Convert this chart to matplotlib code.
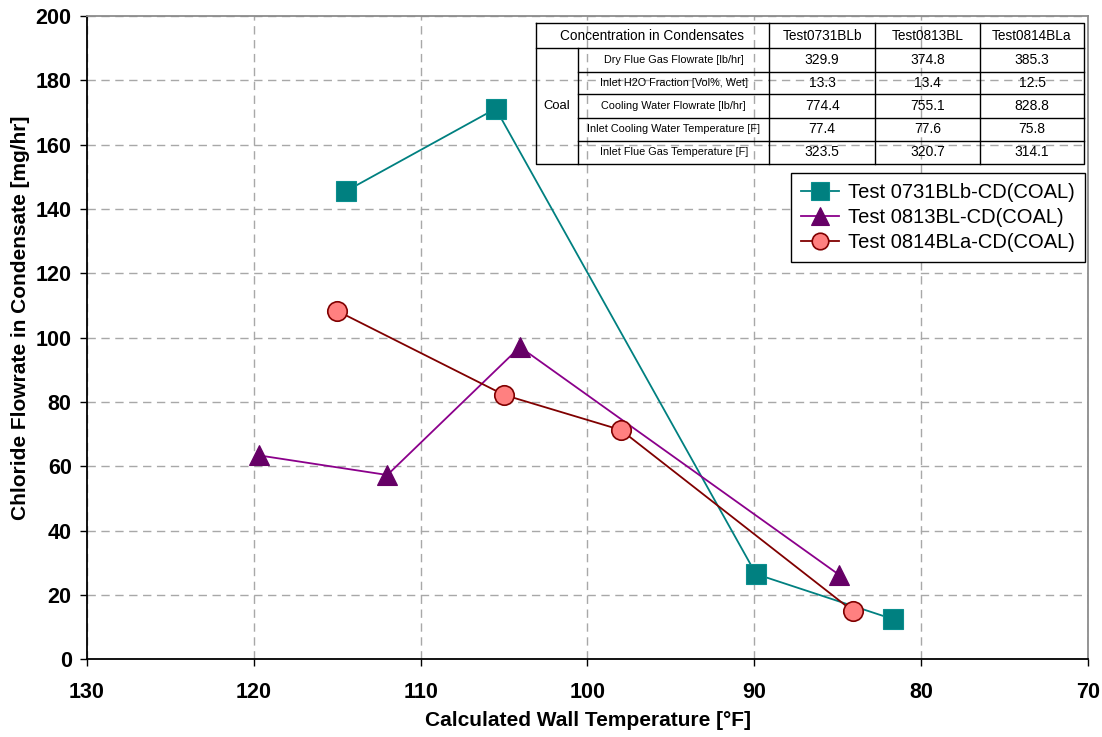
import matplotlib
matplotlib.use("Agg")
import matplotlib.pyplot as plt
from matplotlib import font_manager

# ---- measured data -------------------------------------------------------
wall_temp_0731 = [114.5, 105.5, 89.9, 81.7]
chloride_0731 = [145.5, 171.2, 26.5, 12.5]

wall_temp_0813 = [119.7, 112.0, 104.05, 84.9]
chloride_0813 = [63.4, 57.3, 97.1, 26.2]

wall_temp_0814 = [115.0, 105.0, 98.0, 84.1]
chloride_0814 = [108.3, 82.2, 71.3, 15.0]

series_labels = ["Test 0731BLb-CD(COAL)", "Test 0813BL-CD(COAL)", "Test 0814BLa-CD(COAL)"]

x_ticks = [130, 120, 110, 100, 90, 80, 70]
y_ticks = [0, 20, 40, 60, 80, 100, 120, 140, 160, 180, 200]

# ---- test-condition table ------------------------------------------------
table_title = "Concentration in Condensates"
table_group = "Coal"
test_names = ["Test0731BLb", "Test0813BL", "Test0814BLa"]
param_names = [
    "Dry Flue Gas Flowrate [lb/hr]",
    "Inlet H2O Fraction [Vol%, Wet]",
    "Cooling Water Flowrate [lb/hr]",
    "Inlet Cooling Water Temperature [F]",
    "Inlet Flue Gas Temperature [F]",
]
dry_flue_gas = [329.9, 374.8, 385.3]
h2o_fraction = [13.3, 13.4, 12.5]
cooling_water = [774.4, 755.1, 828.8]
cooling_water_temp = [77.4, 77.6, 75.8]
flue_gas_temp = [323.5, 320.7, 314.1]
table_rows = [dry_flue_gas, h2o_fraction, cooling_water, cooling_water_temp, flue_gas_temp]


def has_font(name):
    try:
        font_manager.findfont(font_manager.FontProperties(family=name),
                              fallback_to_default=False)
        return True
    except ValueError:
        return False


plt.rcParams["font.family"] = ["Liberation Sans", "DejaVu Sans"]
if has_font("Liberation Sans Narrow"):
    table_family = ["Liberation Sans Narrow", "Liberation Sans"]
    tscale = 1.2
else:
    table_family = ["Liberation Sans", "DejaVu Sans"]
    tscale = 1.0

W, H = 1102, 737
fig = plt.figure(figsize=(W / 100, H / 100), dpi=100)
fig.patch.set_facecolor("white")


def fx(px):
    return px / W


def fy(py):
    return 1 - py / H


left, right, top, bottom = 87.0, 1088.0, 16.0, 659.3
ax = fig.add_axes([fx(left), fy(bottom), (right - left) / W, (bottom - top) / H])
ax.set_xlim(130, 70)
ax.set_ylim(0, 200)
ax.set_xticks(x_ticks)
ax.set_yticks(y_ticks)
ax.grid(True, color="#a8a8a8", linestyle=(0, (6, 4)), linewidth=1.0, zorder=0)
ax.set_axisbelow(True)

for side in ("left", "bottom"):
    ax.spines[side].set_color("black")
    ax.spines[side].set_linewidth(1.3)
for side in ("top", "right"):
    ax.spines[side].set_color("#8c8c8c")
    ax.spines[side].set_linewidth(1.3)

ax.tick_params(axis="both", direction="out", length=5, width=1, labelsize=15.5)
ax.tick_params(axis="x", pad=11)
ax.tick_params(axis="y", pad=6)
for lab in ax.get_xticklabels() + ax.get_yticklabels():
    lab.set_fontweight("bold")

ax.plot(wall_temp_0731, chloride_0731, color="#008080", linewidth=1.3,
        marker="s", markersize=15, markerfacecolor="#008080",
        markeredgecolor="#0b8f8f", markeredgewidth=0.8,
        label=series_labels[0], zorder=3)
ax.plot(wall_temp_0813, chloride_0813, color="#8b008b", linewidth=1.3,
        marker="^", markersize=14.5, markerfacecolor="#660066",
        markeredgecolor="#660066", markeredgewidth=0.8,
        label=series_labels[1], zorder=3)
ax.plot(wall_temp_0814, chloride_0814, color="#800000", linewidth=1.3,
        marker="o", markersize=14, markerfacecolor="#ff8080",
        markeredgecolor="#800000", markeredgewidth=1.2,
        label=series_labels[2], zorder=3)

fig.text(fx(588), fy(721), "Calculated Wall Temperature [\u00b0F]",
         ha="center", va="center", fontsize=15, fontweight="bold")
fig.text(fx(21), fy(318), "Chloride Flowrate in Condensate [mg/hr]",
         ha="center", va="center", rotation=90, fontsize=15, fontweight="bold")

leg = ax.legend(loc="upper right", bbox_to_anchor=(fx(1085), fy(173)),
                bbox_transform=fig.transFigure, borderaxespad=0,
                fontsize=14.5, frameon=True, fancybox=False, framealpha=1,
                edgecolor="black", handlelength=1.9, handletextpad=0.45,
                labelspacing=0.3, borderpad=0.5, markerscale=0.85)
leg.get_frame().set_linewidth(1.0)

# ---- table overlay in pixel coordinates ---------------------------------
tab = fig.add_axes([0, 0, 1, 1])
tab.set_xlim(0, W)
tab.set_ylim(H, 0)
tab.axis("off")
tab.patch.set_alpha(0)

cols = [535.7, 578.3, 769.3, 875.0, 980.0, 1084.0]
rows = [23.3, 48.3, 71.7, 94.3, 117.7, 140.7, 164.0]
lc = dict(color="black", linewidth=1.0)

tab.plot([cols[0], cols[-1], cols[-1], cols[0], cols[0]],
         [rows[0], rows[0], rows[-1], rows[-1], rows[0]], **lc)
tab.plot([cols[0], cols[-1]], [rows[1], rows[1]], **lc)
for r in rows[2:-1]:
    tab.plot([cols[1], cols[-1]], [r, r], **lc)
tab.plot([cols[1], cols[1]], [rows[1], rows[-1]], **lc)
for c in cols[2:-1]:
    tab.plot([c, c], [rows[0], rows[-1]], **lc)


def cell_text(x, y, s, size):
    tab.text(x, y, s, ha="center", va="center", fontsize=size * tscale,
             family=table_family)


cell_text((cols[0] + cols[2]) / 2, (rows[0] + rows[1]) / 2, table_title, 9.8)
for j, name in enumerate(test_names):
    cell_text((cols[j + 2] + cols[j + 3]) / 2, (rows[0] + rows[1]) / 2, name, 9.8)
cell_text((cols[0] + cols[1]) / 2, (rows[1] + rows[-1]) / 2, table_group, 9.4)
for i, (pname, vals) in enumerate(zip(param_names, table_rows)):
    yc = (rows[i + 1] + rows[i + 2]) / 2
    cell_text((cols[1] + cols[2]) / 2, yc, pname, 7.8)
    for j, v in enumerate(vals):
        cell_text((cols[j + 2] + cols[j + 3]) / 2, yc, f"{v:.1f}", 10)

fig.savefig("out.png", dpi=100, facecolor="white")
